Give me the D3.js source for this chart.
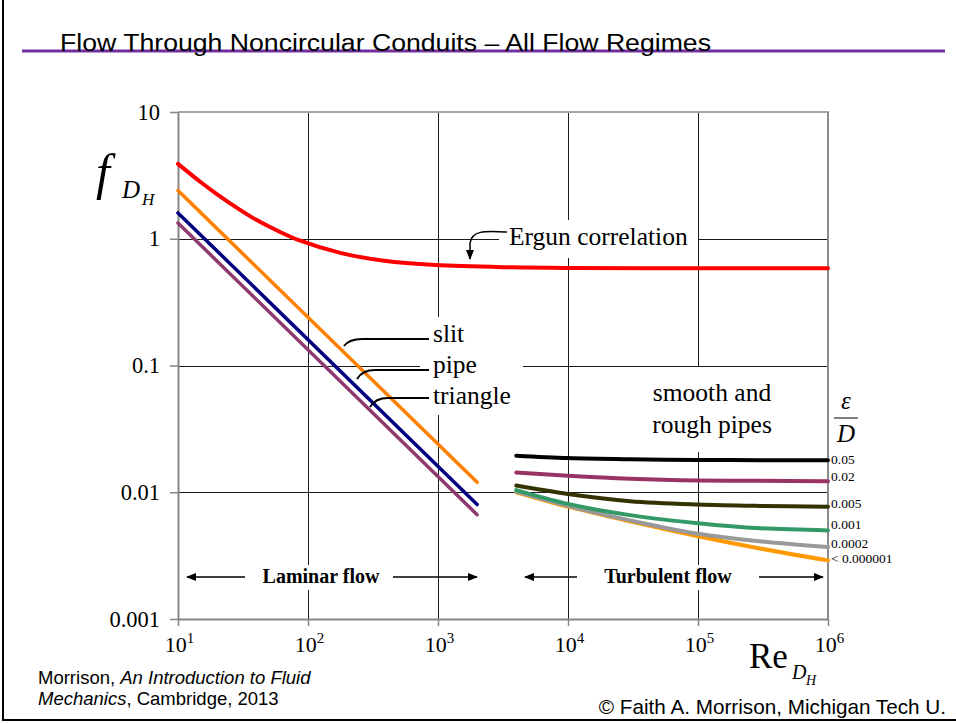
<!DOCTYPE html>
<html><head><meta charset="utf-8">
<script src="https://cdn.jsdelivr.net/npm/d3@7"></script>
<style>
html,body{margin:0;padding:0;background:#fff;}
svg{display:block;}
</style></head>
<body>
<svg id="chart" width="956" height="723"></svg>
<script>
// ---------- DATA ----------
const yTicks = [0.001, 0.01, 0.1, 1, 10];
const yTickLabels = ["0.001", "0.01", "0.1", "1", "10"];
const xTicks = [10, 100, 1000, 10000, 100000, 1000000];
const xTickExp = ["1", "2", "3", "4", "5", "6"];

const ergunRe = [10, 15, 20, 30, 40, 60, 85, 180, 385, 950, 3700, 10000, 100000, 1000000];
const ergunF  = [3.9, 2.79, 2.24, 1.69, 1.41, 1.14, 0.975, 0.77, 0.67, 0.62, 0.595, 0.588, 0.585, 0.585];

const laminarRe = [10, 2000];
const slitF     = [2.4, 0.012];
const pipeF     = [1.6, 0.008];
const triangleF = [1.33, 0.00665];

const turbRe = [4000, 10000, 30000, 100000, 300000, 1000000];
const roughLabels = ["0.05", "0.02", "0.005", "0.001", "0.0002", "< 0.000001"];
const f_005    = [0.0194, 0.0186, 0.0182, 0.0180, 0.0179, 0.0179];
const f_002    = [0.0143, 0.0135, 0.0128, 0.0124, 0.0123, 0.0122];
const f_0005   = [0.0113, 0.0097, 0.0085, 0.0080, 0.0078, 0.0077];
const f_0001   = [0.0104, 0.0081, 0.0066, 0.0057, 0.0052, 0.0050];
const f_00002  = [0.0101, 0.0078, 0.0060, 0.0047, 0.0041, 0.0037];
const f_smooth = [0.0100, 0.0077, 0.0059, 0.0045, 0.0036, 0.0029];
const turbSeries = [f_005, f_002, f_0005, f_0001, f_00002, f_smooth];
const turbColors = ["#000000", "#993366", "#333300", "#339966", "#999999", "#ff9900"];
const labelOffsets = [1, -3, -2, -4, -2, 0];

// ---------- SETUP ----------
const svg = d3.select("#chart");
const serif = "'Liberation Serif','Times New Roman',serif";
const sans = "'Liberation Sans',Arial,sans-serif";

const x = d3.scaleLog().domain([10, 1e6]).range([178, 828]);
const y = d3.scaleLog().domain([0.001, 10]).range([619, 112]);

// page frame
svg.append("line").attr("x1",3).attr("x2",3).attr("y1",0).attr("y2",721).attr("stroke","#000").attr("stroke-width",2);
svg.append("line").attr("x1",2).attr("x2",956).attr("y1",720).attr("y2",720).attr("stroke","#000").attr("stroke-width",2);

// title
svg.append("line").attr("x1",22).attr("x2",945).attr("y1",51).attr("y2",51).attr("stroke","#7030a0").attr("stroke-width",3);
svg.append("text").attr("x",60).attr("y",51).attr("font-family",sans).attr("font-size",23.5)
  .attr("textLength",651).attr("lengthAdjust","spacingAndGlyphs")
  .text("Flow Through Noncircular Conduits \u2013 All Flow Regimes");

// arrow marker
const defs = svg.append("defs");
defs.append("marker").attr("id","ah").attr("viewBox","0 0 10 10").attr("refX",9).attr("refY",5)
  .attr("markerWidth",7).attr("markerHeight",7).attr("orient","auto-start-reverse")
  .append("path").attr("d","M0,1 L10,5 L0,9 Z").attr("fill","#000");

// gridlines
const grid = svg.append("g").attr("shape-rendering","crispEdges");
grid.selectAll(".vg").data(xTicks.slice(1,5)).join("line")
  .attr("x1",d=>Math.round(x(d))+0.5).attr("x2",d=>Math.round(x(d))+0.5).attr("y1",112).attr("y2",619)
  .attr("stroke","#1a1a1a").attr("stroke-width",1);
grid.selectAll(".hg").data(yTicks.slice(1,4)).join("line")
  .attr("x1",178).attr("x2",828).attr("y1",d=>Math.round(y(d))+0.5).attr("y2",d=>Math.round(y(d))+0.5)
  .attr("stroke","#1a1a1a").attr("stroke-width",1);

// plot border (top/right)
svg.append("line").attr("x1",178).attr("x2",829).attr("y1",112).attr("y2",112).attr("stroke","#a6a6a6").attr("stroke-width",2);
svg.append("line").attr("x1",828).attr("x2",828).attr("y1",112).attr("y2",619).attr("stroke","#8c8c8c").attr("stroke-width",2);

// white label boxes (interrupt gridlines)
const boxes = [[499,220,199,38],[420,317,103,98],[640,367,145,85],[247,565,146,25],[595,565,157,25],[829,376,38,76]];
svg.selectAll(".box").data(boxes).join("rect")
  .attr("x",d=>d[0]).attr("y",d=>d[1]).attr("width",d=>d[2]).attr("height",d=>d[3]).attr("fill","#fff");

// axes
const yAxis = d3.axisLeft(y).tickValues(yTicks).tickFormat((d,i)=>yTickLabels[i]).tickSize(8).tickSizeOuter(0);
const gy = svg.append("g").attr("transform","translate(178,0)").call(yAxis);
gy.select(".domain").attr("stroke","#868686").attr("stroke-width",2);
gy.selectAll(".tick line").attr("stroke","#868686").attr("stroke-width",1.5);
gy.selectAll(".tick text").attr("font-family",serif).attr("font-size",22.5).attr("fill","#000").attr("x",-18);

const xAxis = d3.axisBottom(x).tickValues(xTicks).tickFormat(()=>"").tickSize(7).tickSizeOuter(0);
const gx = svg.append("g").attr("transform","translate(0,619)").call(xAxis);
gx.select(".domain").attr("stroke","#868686").attr("stroke-width",2);
gx.selectAll(".tick line").attr("stroke","#868686").attr("stroke-width",1.5);
gx.selectAll(".tick text").each(function(d,i){
  const t = d3.select(this).attr("font-family",serif).attr("font-size",22).attr("fill","#000")
    .attr("y",17).attr("dy","0.71em").attr("dx",1);
  t.append("tspan").text("10");
  t.append("tspan").attr("font-size",15).attr("dy",-9).text(xTickExp[i]);
});

// axis titles
const ft = svg.append("text").attr("font-family",serif).attr("font-style","italic").attr("fill","#000");
ft.append("tspan").attr("x",96).attr("y",189).attr("font-size",50).text("f");
ft.append("tspan").attr("x",122).attr("y",198).attr("font-size",25).text("D");
ft.append("tspan").attr("x",142).attr("y",205).attr("font-size",17).text("H");

const rt = svg.append("text").attr("font-family",serif).attr("fill","#000");
rt.append("tspan").attr("x",749).attr("y",668).attr("font-size",35).text("Re");
rt.append("tspan").attr("x",792).attr("y",679).attr("font-size",20).attr("font-style","italic").text("D");
rt.append("tspan").attr("x",806).attr("y",685).attr("font-size",14).attr("font-style","italic").text("H");

// ---------- CURVES ----------
const line = d3.line().x(d=>x(d[0])).y(d=>y(d[1])).curve(d3.curveCatmullRom.alpha(0.5));
const zip = (a,b)=>a.map((v,i)=>[v,b[i]]);
const curves = svg.append("g").attr("fill","none").attr("stroke-linecap","round");

curves.append("path").attr("d",line(zip(ergunRe,ergunF))).attr("stroke","#ff0000").attr("stroke-width",4);
curves.append("path").attr("d",line(zip(laminarRe,slitF))).attr("stroke","#ff7f00").attr("stroke-width",3.5);
curves.append("path").attr("d",line(zip(laminarRe,triangleF))).attr("stroke","#8e3a6e").attr("stroke-width",3.5);
curves.append("path").attr("d",line(zip(laminarRe,pipeF))).attr("stroke","#000080").attr("stroke-width",3.5);

turbSeries.slice().reverse().forEach((s,ri)=>{
  const i = turbSeries.length-1-ri;
  curves.append("path").attr("d",line(zip(turbRe,s))).attr("stroke",turbColors[i]).attr("stroke-width",4);
});

// roughness labels
svg.selectAll(".rl").data(turbSeries).join("text")
  .attr("x",831).attr("y",(d,i)=>y(d[d.length-1])+labelOffsets[i])
  .attr("dominant-baseline","middle").attr("font-family",serif).attr("font-size",13.5).attr("fill","#000")
  .text((d,i)=>roughLabels[i]);

// epsilon / D
svg.append("text").attr("x",846).attr("y",409).attr("text-anchor","middle").attr("font-family",serif)
  .attr("font-style","italic").attr("font-size",25).text("\u03b5");
svg.append("line").attr("x1",834).attr("x2",858).attr("y1",418).attr("y2",418).attr("stroke","#000").attr("stroke-width",1);
svg.append("text").attr("x",846).attr("y",442).attr("text-anchor","middle").attr("font-family",serif)
  .attr("font-style","italic").attr("font-size",25).text("D");

// ---------- ANNOTATIONS ----------
const ann = svg.append("g").attr("font-family",serif).attr("fill","#000");
ann.append("text").attr("x",509).attr("y",245).attr("font-size",25.5).text("Ergun correlation");
svg.append("path").attr("d","M507,232 C485,231 472,230 470,243 L470,259").attr("fill","none")
  .attr("stroke","#000").attr("stroke-width",1.5).attr("marker-end","url(#ah)");

ann.append("text").attr("x",433).attr("y",342).attr("font-size",25.5).text("slit");
ann.append("text").attr("x",433).attr("y",373).attr("font-size",25.5).text("pipe");
ann.append("text").attr("x",433).attr("y",404).attr("font-size",25.5).text("triangle");
const lead = svg.append("g").attr("fill","none").attr("stroke","#000").attr("stroke-width",2);
lead.append("path").attr("d","M429,339 L362,339 C352,339 347,342 344,346");
lead.append("path").attr("d","M429,370 L375,370 C365,370 360,374 357,379");
lead.append("path").attr("d","M429,398 L388,398 C378,398 373,402 370,407");

ann.append("text").attr("x",712).attr("y",401).attr("text-anchor","middle").attr("font-size",25.5).text("smooth and");
ann.append("text").attr("x",712).attr("y",433).attr("text-anchor","middle").attr("font-size",25.5).text("rough pipes");

ann.append("text").attr("x",321).attr("y",583).attr("text-anchor","middle").attr("font-size",20).attr("font-weight","bold").text("Laminar flow");
ann.append("text").attr("x",668).attr("y",583).attr("text-anchor","middle").attr("font-size",20).attr("font-weight","bold").text("Turbulent flow");
const arr = svg.append("g").attr("stroke","#000").attr("stroke-width",1.5);
[[245,187],[393,477],[577,525],[759,823]].forEach(a=>{
  arr.append("line").attr("x1",a[0]).attr("x2",a[1]).attr("y1",577).attr("y2",577).attr("marker-end","url(#ah)");
});

// footer
const ft2 = svg.append("g").attr("font-family",sans).attr("fill","#000");
const c1 = ft2.append("text").attr("x",38).attr("y",684).attr("font-size",18.5);
c1.append("tspan").text("Morrison, ");
c1.append("tspan").attr("font-style","italic").text("An Introduction to Fluid");
const c2 = ft2.append("text").attr("x",38).attr("y",705).attr("font-size",18.5);
c2.append("tspan").attr("font-style","italic").text("Mechanics");
c2.append("tspan").text(", Cambridge, 2013");
ft2.append("text").attr("x",946).attr("y",714).attr("text-anchor","end").attr("font-size",20.7)
  .text("\u00a9 Faith A. Morrison, Michigan Tech U.");
</script>
</body></html>
